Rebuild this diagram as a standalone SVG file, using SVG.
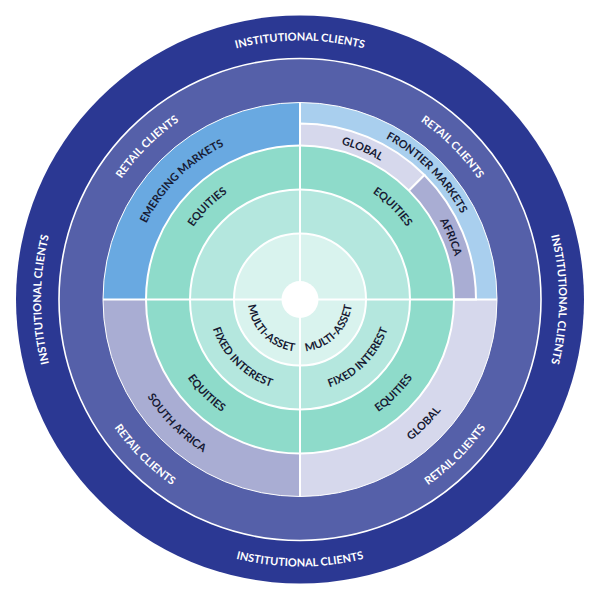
<svg xmlns="http://www.w3.org/2000/svg" width="600" height="600" viewBox="0 0 600 600">
<style>
.lbl{font-family:Lato,"Open Sans","DejaVu Sans",sans-serif;font-weight:700;font-size:11px;}
.w{fill:#ffffff;}
.d{fill:#171a33;}
.sep{stroke:#ffffff;stroke-width:2;}
</style>
<defs>
<path id="pInstT" d="M75.7,170 A259,259 0 0 1 524.3,170"/>
<path id="pInstR" d="M429.5,75.2 A259,259 0 0 1 429.5,523.8"/>
<path id="pInstL" d="M170.5,523.8 A259,259 0 0 1 170.5,75.2"/>
<path id="pInstB" d="M68.8,433 A267,267 0 0 0 531.2,433"/>
<path id="pRetTL" d="M84.5,299.5 A215.5,215.5 0 0 1 300,84"/>
<path id="pRetTR" d="M300,84.5 A215,215 0 0 1 515,299.5"/>
<path id="pRetBL" d="M74.5,299.5 A225.5,225.5 0 0 0 300,525"/>
<path id="pRetBR" d="M300,525 A225.5,225.5 0 0 0 525.5,299.5"/>
<path id="pEm" d="M128.5,299.5 A171.5,171.5 0 0 1 300,128"/>
<path id="pEqTL" d="M171,299.5 A129,129 0 0 1 300,170.5"/>
<path id="pFr" d="M300,117 A182.5,182.5 0 0 1 482.5,299.5"/>
<path id="pEqTR" d="M300,170.5 A129,129 0 0 1 429,299.5"/>
<path id="pGlTR" d="M238.58,151.22 A160.5,160.5 0 0 1 448.28,238.08"/>
<path id="pAf" d="M361.42,151.22 A160.5,160.5 0 0 1 448.28,360.92"/>
<path id="pSA" d="M119,299.5 A181,181 0 0 0 300,480.5"/>
<path id="pGlBR" d="M300,478.8 A179.3,179.3 0 0 0 479.3,299.5"/>
<path id="pEqBL" d="M163,299.5 A137,137 0 0 0 300,436.5"/>
<path id="pEqBR" d="M300,436.5 A137,137 0 0 0 437,299.5"/>
<path id="pFiBL" d="M208,299.5 A92,92 0 0 0 300,391.5"/>
<path id="pFiBR" d="M300,392 A92.5,92.5 0 0 0 392.5,299.5"/>
<path id="pMaBL" d="M248,299.5 A52,52 0 0 0 300,351.5"/>
<path id="pMaBR" d="M300,351.5 A52,52 0 0 0 352,299.5"/>
</defs>

<g id="institutional-ring">
<circle cx="300" cy="299.5" r="284" fill="#2b3893"/>
</g>
<g id="retail-ring">
<circle cx="300" cy="299.5" r="241" fill="#5560a9" stroke="#ffffff" stroke-width="1.6"/>
</g>

<g id="quadrant-emerging-markets">
<path d="M300,299.5 L103,299.5 A197,197 0 0 1 300,102.5 Z" fill="#69a9e1" stroke="#ffffff" stroke-width="1"/>
</g>
<g id="quadrant-frontier-markets">
<path d="M300,299.5 L300,102.5 A197,197 0 0 1 497,299.5 Z" fill="#a9cfee" stroke="#ffffff" stroke-width="1"/>
</g>
<g id="quadrant-global">
<path d="M300,299.5 L497,299.5 A197,197 0 0 1 300,496.5 Z" fill="#d6d8ec" stroke="#ffffff" stroke-width="1"/>
</g>
<g id="quadrant-south-africa">
<path d="M300,299.5 L300,496.5 A197,197 0 0 1 103,299.5 Z" fill="#a9add3" stroke="#ffffff" stroke-width="1"/>
</g>
<g id="frontier-global">
<path d="M300,299.5 L300,123.5 A176,176 0 0 1 424.45,175.05 Z" fill="#d6d8ec" class="sep"/>
</g>
<g id="frontier-africa">
<path d="M300,299.5 L424.45,175.05 A176,176 0 0 1 476,299.5 Z" fill="#a9add3" class="sep"/>
</g>

<g id="equities-ring">
<circle cx="300" cy="299.5" r="154" fill="#8edbca" class="sep"/>
</g>
<g id="fixed-interest-ring">
<circle cx="300" cy="299.5" r="110" fill="#b4e7de" class="sep"/>
</g>
<g id="multi-asset-ring">
<circle cx="300" cy="299.5" r="66" fill="#d9f3ee" class="sep"/>
</g>

<g id="dividers">
<line x1="300" y1="102.5" x2="300" y2="496.5" class="sep"/>
<line x1="103" y1="299.5" x2="497" y2="299.5" class="sep"/>
</g>
<g id="centre">
<circle cx="300" cy="299.5" r="18.5" fill="#ffffff"/>
</g>

<g id="labels-institutional" class="lbl w">
<text><textPath href="#pInstT" startOffset="50%" text-anchor="middle">INSTITUTIONAL CLIENTS</textPath></text>
<text><textPath href="#pInstR" startOffset="50%" text-anchor="middle">INSTITUTIONAL CLIENTS</textPath></text>
<text><textPath href="#pInstL" startOffset="50%" text-anchor="middle">INSTITUTIONAL CLIENTS</textPath></text>
<text><textPath href="#pInstB" startOffset="50%" text-anchor="middle">INSTITUTIONAL CLIENTS</textPath></text>
</g>
<g id="labels-retail" class="lbl w">
<text><textPath href="#pRetTL" startOffset="50%" text-anchor="middle">RETAIL CLIENTS</textPath></text>
<text><textPath href="#pRetTR" startOffset="50%" text-anchor="middle">RETAIL CLIENTS</textPath></text>
<text><textPath href="#pRetBL" startOffset="50%" text-anchor="middle">RETAIL CLIENTS</textPath></text>
<text><textPath href="#pRetBR" startOffset="50%" text-anchor="middle">RETAIL CLIENTS</textPath></text>
</g>
<g id="labels-segments" class="lbl d">
<text><textPath href="#pEm" startOffset="50%" text-anchor="middle">EMERGING MARKETS</textPath></text>
<text><textPath href="#pFr" startOffset="50%" text-anchor="middle">FRONTIER MARKETS</textPath></text>
<text><textPath href="#pGlTR" startOffset="50%" text-anchor="middle">GLOBAL</textPath></text>
<text><textPath href="#pAf" startOffset="50%" text-anchor="middle">AFRICA</textPath></text>
<text><textPath href="#pSA" startOffset="50%" text-anchor="middle">SOUTH AFRICA</textPath></text>
<text><textPath href="#pGlBR" startOffset="50%" text-anchor="middle">GLOBAL</textPath></text>
<text><textPath href="#pEqTL" startOffset="50%" text-anchor="middle">EQUITIES</textPath></text>
<text><textPath href="#pEqTR" startOffset="50%" text-anchor="middle">EQUITIES</textPath></text>
<text><textPath href="#pEqBL" startOffset="50%" text-anchor="middle">EQUITIES</textPath></text>
<text><textPath href="#pEqBR" startOffset="50%" text-anchor="middle">EQUITIES</textPath></text>
<text><textPath href="#pFiBL" startOffset="50%" text-anchor="middle">FIXED INTEREST</textPath></text>
<text><textPath href="#pFiBR" startOffset="50%" text-anchor="middle">FIXED INTEREST</textPath></text>
<text><textPath href="#pMaBL" startOffset="50%" text-anchor="middle">MULTI-ASSET</textPath></text>
<text><textPath href="#pMaBR" startOffset="50%" text-anchor="middle">MULTI-ASSET</textPath></text>
</g>
</svg>
